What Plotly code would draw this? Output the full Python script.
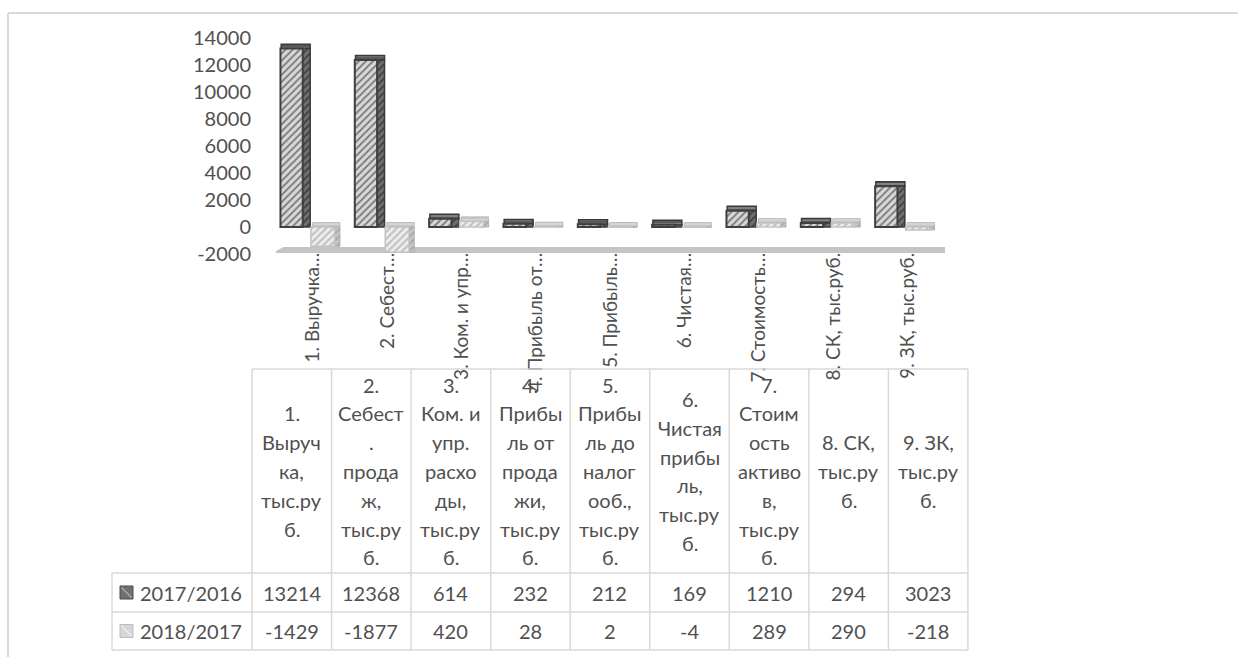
import plotly.graph_objects as go

# ---------------- data ----------------
categories = [
    "1. Выручка, тыс.руб.",
    "2. Себест. продаж, тыс.руб.",
    "3. Ком. и упр. расходы, тыс.руб.",
    "4. Прибыль от продажи, тыс.руб.",
    "5. Прибыль до налогооб., тыс.руб.",
    "6. Чистая прибыль, тыс.руб.",
    "7. Стоимость активов, тыс.руб.",
    "8. СК, тыс.руб.",
    "9. ЗК, тыс.руб.",
]
axis_labels = [
    "1. Выручка…",
    "2. Себест…",
    "3. Ком. и упр…",
    "4. Прибыль от…",
    "5. Прибыль…",
    "6. Чистая…",
    "7. Стоимость…",
    "8. СК, тыс.руб.",
    "9. ЗК, тыс.руб.",
]
header_lines = [
    ["1.", "Выруч", "ка,", "тыс.ру", "б."],
    ["2.", "Себест", ".", "прода", "ж,", "тыс.ру", "б."],
    ["3.", "Ком. и", "упр.", "расхо", "ды,", "тыс.ру", "б."],
    ["4.", "Прибы", "ль от", "прода", "жи,", "тыс.ру", "б."],
    ["5.", "Прибы", "ль до", "налог", "ооб.,", "тыс.ру", "б."],
    ["6.", "Чистая", "прибы", "ль,", "тыс.ру", "б."],
    ["7.", "Стоим", "ость", "активо", "в,", "тыс.ру", "б."],
    ["8. СК,", "тыс.ру", "б."],
    ["9. ЗК,", "тыс.ру", "б."],
]
series_names = ["2017/2016", "2018/2017"]
values_2017_2016 = [13214, 12368, 614, 232, 212, 169, 1210, 294, 3023]
values_2018_2017 = [-1429, -1877, 420, 28, 2, -4, 289, 290, -218]
y_ticks = [-2000, 0, 2000, 4000, 6000, 8000, 10000, 12000, 14000]
y_tick_text = ["-2000", "0", "2000", "4000", "6000", "8000", "10000", "12000", "14000"]

# ---------------- layout helpers ----------------
W, H = 1238, 657
def fx(x):
    return x / W
def fy(y):
    return 1 - y / H

FONT = "Lato"
TXT = "#505050"
GRID = "#d9d9d9"
DEPTH = 330  # visual thickness of the 3D top face, in axis units

fig = go.Figure()

def top_base(vals):
    return [max(v, 0) for v in vals]

# ---- series 1 (2017/2016): top face, side face, front face
fig.add_trace(go.Bar(
    x=categories, y=[DEPTH] * len(categories), base=top_base(values_2017_2016),
    offset=-0.43, width=0.39,
    marker=dict(color="#5e5e5e",
                pattern=dict(shape="-", fgcolor="#9a9a9a", bgcolor="#5a5a5a", size=4, solidity=0.3),
                line=dict(color="#3a3a3a", width=1.5)),
    showlegend=False, hoverinfo="skip"))
fig.add_trace(go.Bar(
    x=categories, y=values_2017_2016, offset=-0.16, width=0.12,
    marker=dict(color="#5a5a5a",
                pattern=dict(shape="/", fgcolor="#3a3a3a", bgcolor="#6e6e6e", size=5, solidity=0.3),
                line=dict(color="#3a3a3a", width=1.5)),
    showlegend=False, hoverinfo="skip"))
fig.add_trace(go.Bar(
    x=categories, y=values_2017_2016, offset=-0.44, width=0.30, name=series_names[0],
    marker=dict(color="#d2d2d2",
                pattern=dict(shape="/", fgcolor="#7a7a7a", bgcolor="#d8d8d8", size=5, solidity=0.35),
                line=dict(color="#3f3f3f", width=2)),
    showlegend=False, hoverinfo="skip"))

# ---- series 2 (2018/2017)
fig.add_trace(go.Bar(
    x=categories, y=[DEPTH] * len(categories), base=top_base(values_2018_2017),
    offset=-0.01, width=0.37,
    marker=dict(color="#c9c9c9",
                pattern=dict(shape="-", fgcolor="#e2e2e2", bgcolor="#c6c6c6", size=4, solidity=0.3),
                line=dict(color="#bcbcbc", width=1)),
    showlegend=False, hoverinfo="skip"))
fig.add_trace(go.Bar(
    x=categories, y=values_2018_2017, offset=0.26, width=0.10,
    marker=dict(color="#bdbdbd",
                pattern=dict(shape="/", fgcolor="#a5a5a5", bgcolor="#c4c4c4", size=5, solidity=0.3),
                line=dict(color="#b0b0b0", width=1)),
    showlegend=False, hoverinfo="skip"))
fig.add_trace(go.Bar(
    x=categories, y=values_2018_2017, offset=-0.03, width=0.32, name=series_names[1],
    marker=dict(color="#e6e6e6",
                pattern=dict(shape="/", fgcolor="#bcbcbc", bgcolor="#ececec", size=5, solidity=0.35),
                line=dict(color="#c2c2c2", width=1.5)),
    showlegend=False, hoverinfo="skip"))

shapes = []
# 3D floor band
shapes.append(dict(type="path", xref="x", yref="paper",
                   path=f"M -0.55,{fy(253)} L 8.5,{fy(253)} L 8.55,{fy(247)} L -0.4,{fy(247)} Z",
                   fillcolor="#c4c4c4", line=dict(width=0), layer="below"))

# outer frame (top and left)
shapes.append(dict(type="line", xref="paper", yref="paper", x0=fx(8), x1=1, y0=fy(13), y1=fy(13),
                   line=dict(color=GRID, width=2)))
shapes.append(dict(type="line", xref="paper", yref="paper", x0=fx(8), x1=fx(8), y0=fy(13), y1=0,
                   line=dict(color=GRID, width=2)))

# data table geometry
tab_left, col0, col_w = 112, 252, 79.55
ncol = len(categories)
tab_right = col0 + col_w * ncol
y_top, y_head, y_r1, y_r2 = 369, 573, 612, 650

def hline(y, x0, x1):
    shapes.append(dict(type="line", xref="paper", yref="paper", x0=fx(x0), x1=fx(x1), y0=fy(y), y1=fy(y),
                       line=dict(color=GRID, width=1.5)))
def vline(x, y0, y1):
    shapes.append(dict(type="line", xref="paper", yref="paper", x0=fx(x), x1=fx(x), y0=fy(y0), y1=fy(y1),
                       line=dict(color=GRID, width=1.5)))

hline(y_top, col0, tab_right)
for yy in (y_head, y_r1, y_r2):
    hline(yy, tab_left, tab_right)
vline(tab_left, y_head, y_r2)
for k in range(ncol + 1):
    vline(col0 + col_w * k, y_top, y_r2)

annotations = []
# header text
head_c = (y_top + y_head) / 2
line_h = 28.8
for i, lines in enumerate(header_lines):
    cx = col0 + col_w * (i + 0.5)
    n = len(lines)
    for j, t in enumerate(lines):
        yy = head_c + (j - (n - 1) / 2) * line_h
        annotations.append(dict(x=fx(cx), y=fy(yy), xref="paper", yref="paper", text=t,
                                showarrow=False, xanchor="center", yanchor="middle",
                                font=dict(family=FONT, size=20, color=TXT)))
# values rows
row_c = [(y_head + y_r1) / 2, (y_r1 + y_r2) / 2]
for r, vals in enumerate([values_2017_2016, values_2018_2017]):
    for i, v in enumerate(vals):
        cx = col0 + col_w * (i + 0.5)
        annotations.append(dict(x=fx(cx), y=fy(row_c[r]), xref="paper", yref="paper", text=str(v),
                                showarrow=False, xanchor="center", yanchor="middle",
                                font=dict(family=FONT, size=20, color=TXT)))
    annotations.append(dict(x=fx(138), y=fy(row_c[r]), xref="paper", yref="paper", text=series_names[r],
                            showarrow=False, xanchor="left", yanchor="middle",
                            font=dict(family=FONT, size=20, color=TXT)))

# legend keys in the table
key_styles = [("#707070", "#4a4a4a", "#a8a8a8"), ("#d6d6d6", "#bdbdbd", "#ededed")]
for r, (fill, edge, diag) in enumerate(key_styles):
    yc = row_c[r]
    shapes.append(dict(type="rect", xref="paper", yref="paper", x0=fx(120), x1=fx(133),
                       y0=fy(yc + 6.5), y1=fy(yc - 6.5), fillcolor=fill, line=dict(color=edge, width=1)))
    shapes.append(dict(type="line", xref="paper", yref="paper", x0=fx(121.5), x1=fx(131.5),
                       y0=fy(yc - 5), y1=fy(yc + 5), line=dict(color=diag, width=1.5)))

fig.update_layout(
    template="none",
    width=W, height=H, autosize=False,
    margin=dict(l=0, r=0, t=0, b=0, pad=0),
    paper_bgcolor="white", plot_bgcolor="rgba(0,0,0,0)",
    barmode="overlay", showlegend=False,
    shapes=shapes, annotations=annotations,
    xaxis=dict(domain=[fx(276), fx(945)], range=[-0.5, 8.5], type="category",
               tickmode="array", tickvals=categories, ticktext=axis_labels,
               tickangle=-90, tickfont=dict(family=FONT, size=19, color=TXT),
               showgrid=False, showline=False, zeroline=False, ticks="",
               automargin=False, ticklabelstandoff=-6),
    yaxis=dict(domain=[fy(254), fy(38)], range=[-2000, 14000],
               tickmode="array", tickvals=y_ticks, ticktext=y_tick_text,
               tickfont=dict(family=FONT, size=20, color=TXT),
               showgrid=False, showline=False, zeroline=False, ticks="",
               automargin=False, ticklabelstandoff=24),
)

fig.write_html("out.html", config={"displayModeBar": False},
               post_script="document.body.style.margin='0';")
